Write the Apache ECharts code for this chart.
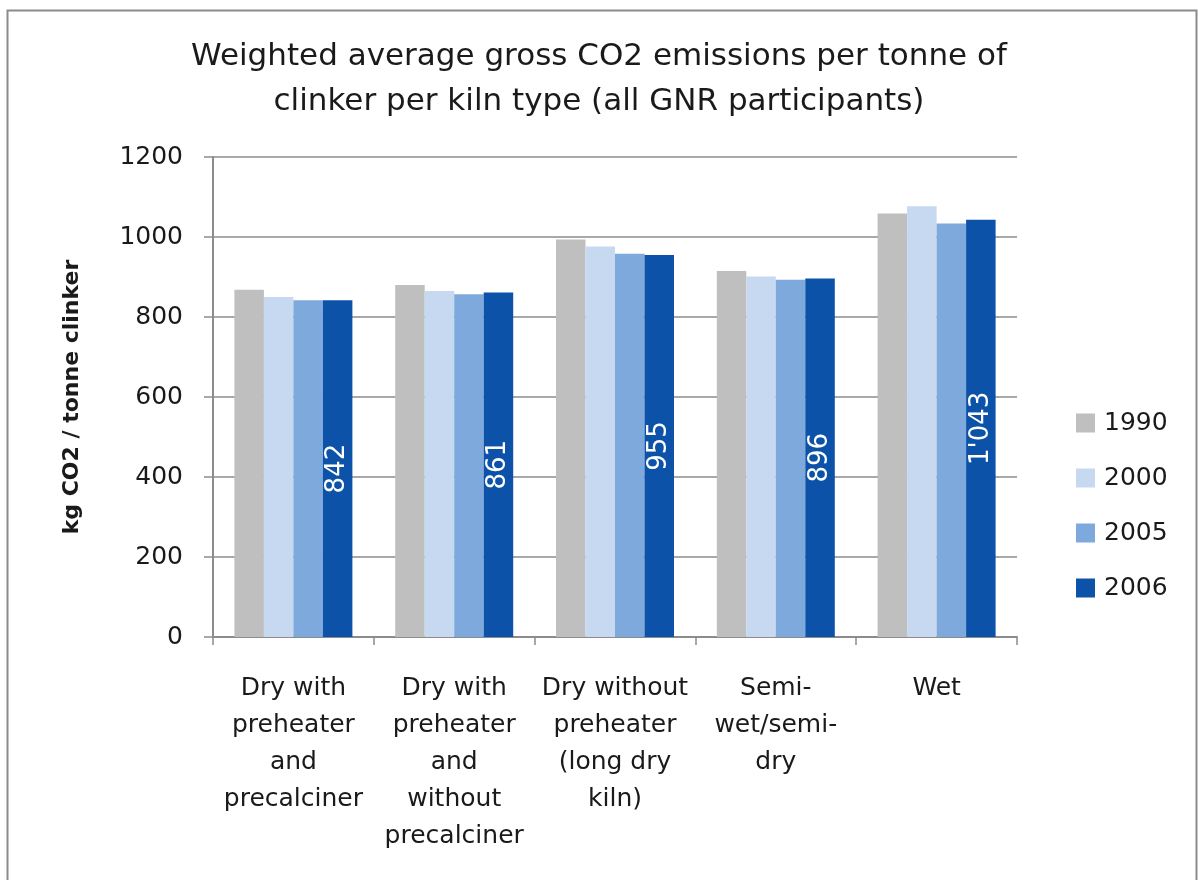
<!DOCTYPE html>
<html>
<head>
<meta charset="utf-8">
<title>Weighted average gross CO2 emissions per kiln type</title>
<script src="https://cdn.jsdelivr.net/npm/echarts@6/dist/echarts.min.js"></script>
<style>
  html, body { margin: 0; padding: 0; background: #ffffff; }
  #chart { width: 1198px; height: 880px; }
</style>
</head>
<body>
<div id="chart"></div>
<script>
// Kiln types on the category axis
const kilnTypes = [
  'Dry with\npreheater\nand\nprecalciner',
  'Dry with\npreheater\nand\nwithout\nprecalciner',
  'Dry without\npreheater\n(long dry\nkiln)',
  'Semi-\nwet/semi-\ndry',
  'Wet'
];

// kg CO2 per tonne clinker, one array per reporting year
const years = ['1990', '2000', '2005', '2006'];
const values1990 = [868, 880, 994, 915, 1059];
const values2000 = [850, 865, 976, 901, 1077];
const values2005 = [842, 857, 958, 893, 1034];
const values2006 = [842, 861, 955, 896, 1043];

const yTicks = { min: 0, max: 1200, step: 200 };

const colors = ['#bfbfbf', '#c6d9f1', '#7ea9dc', '#0b52a8'];
const FONT = 'DejaVu Sans';

// Thousands separator written as an apostrophe, e.g. 1'043
function withApostrophe(v) {
  return String(Math.round(v)).replace(/\B(?=(\d{3})+(?!\d))/g, "'");
}

const seriesValues = [values1990, values2000, values2005, values2006];

const series = years.map((y, i) => ({
  name: y,
  type: 'bar',
  data: seriesValues[i],
  barWidth: 29.5,
  barGap: '0%',
  itemStyle: { color: colors[i] },
  label: i === 3 ? {
    show: true,
    position: 'inside',
    rotate: 90,
    color: '#ffffff',
    fontFamily: FONT,
    fontSize: 26,
    formatter: p => withApostrophe(p.value)
  } : { show: false }
}));

const chart = echarts.init(document.getElementById('chart'), null, { renderer: 'canvas' });

chart.setOption({
  animation: false,
  backgroundColor: '#ffffff',
  textStyle: { fontFamily: FONT },
  title: {
    text: 'Weighted average gross CO2 emissions per tonne of\nclinker per kiln type (all GNR participants)',
    left: 'center',
    top: 29,
    textStyle: {
      fontFamily: FONT,
      fontWeight: 'normal',
      fontSize: 31,
      lineHeight: 45,
      color: '#1a1a1a'
    }
  },
  legend: {
    orient: 'vertical',
    left: 1071,
    top: 405,
    itemWidth: 19,
    itemHeight: 19,
    itemGap: 29,
    icon: 'rect',
    data: years,
    textStyle: {
      fontFamily: FONT,
      fontSize: 25,
      lineHeight: 26,
      color: '#1a1a1a',
      padding: [0, 0, 0, 4]
    }
  },
  grid: {
    left: 213,
    right: 181,
    top: 157,
    bottom: 243,
    containLabel: false
  },
  xAxis: {
    type: 'category',
    data: kilnTypes,
    axisLine: { show: true, lineStyle: { color: '#8c8c8c', width: 2 } },
    axisTick: { show: true, length: 8, interval: 0, lineStyle: { color: '#8c8c8c', width: 1.5 } },
    axisLabel: {
      interval: 0,
      margin: 33,
      fontFamily: FONT,
      fontSize: 25,
      lineHeight: 37,
      color: '#1a1a1a',
      align: 'center'
    },
    splitLine: { show: false }
  },
  yAxis: {
    type: 'value',
    min: yTicks.min,
    max: yTicks.max,
    interval: yTicks.step,
    name: 'kg CO2 / tonne clinker',
    nameLocation: 'middle',
    nameGap: 130,
    nameTextStyle: {
      fontFamily: FONT,
      fontWeight: 'bold',
      fontSize: 22,
      color: '#1a1a1a'
    },
    axisLine: { show: true, lineStyle: { color: '#8c8c8c', width: 2 } },
    axisTick: { show: true, length: 9, lineStyle: { color: '#8c8c8c', width: 1.5 } },
    axisLabel: {
      margin: 30,
      fontFamily: FONT,
      fontSize: 25,
      color: '#1a1a1a',
      formatter: v => String(v)
    },
    splitLine: { show: true, lineStyle: { color: '#8c8c8c', width: 1.5 } }
  },
  graphic: [{
    type: 'rect',
    left: 5,
    top: 8,
    shape: { width: 1189, height: 900 },
    style: { fill: 'none', stroke: '#8c8c8c', lineWidth: 2 },
    silent: true,
    z: 100
  }],
  series: series
});
</script>
</body>
</html>
